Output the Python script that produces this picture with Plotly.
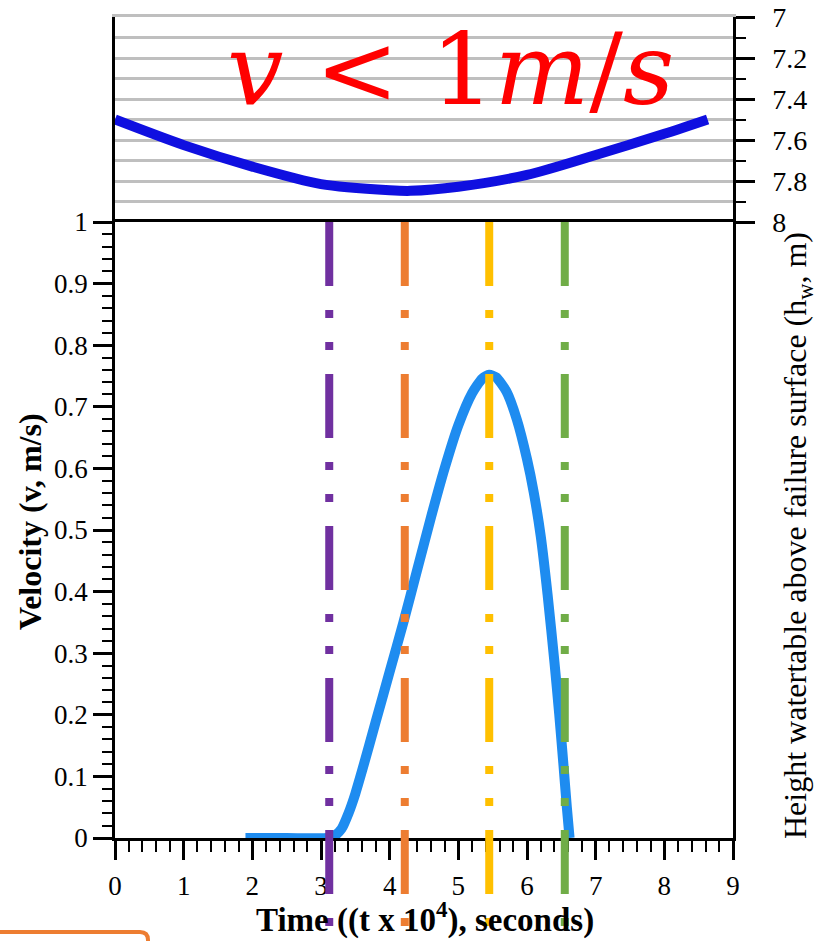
import plotly.graph_objects as go

W, H = 819, 941

# ---------------- data ----------------
# velocity curve (lower panel)
t_velocity = [1.9, 2.5, 3.1, 3.2, 3.3, 3.4, 3.5, 3.6, 3.8, 4.0, 4.2, 4.4, 4.6, 4.8,
              5.0, 5.2, 5.35, 5.45, 5.55, 5.7, 5.85, 6.0, 6.1, 6.2, 6.3, 6.4, 6.47,
              6.53, 6.58, 6.62]
velocity = [0, 0, 0, 0.004, 0.015, 0.04, 0.072, 0.11, 0.19, 0.27, 0.35, 0.435, 0.52,
            0.60, 0.67, 0.722, 0.746, 0.752, 0.748, 0.725, 0.68, 0.615, 0.56, 0.49,
            0.395, 0.285, 0.20, 0.12, 0.05, 0.0]

# watertable height (upper panel)
t_watertable = [0, 1, 2, 3, 4, 4.3, 5, 6, 7, 8, 8.63]
watertable = [7.5, 7.625, 7.73, 7.815, 7.845, 7.848, 7.828, 7.77, 7.673, 7.57, 7.5]

# vertical event markers
event_times = [3.12, 4.22, 5.45, 6.55]
event_colors = ["#7030A0", "#ED7D31", "#FFC000", "#70AD47"]

x_ticks = [0, 1, 2, 3, 4, 5, 6, 7, 8, 9]
v_ticks = [0, 0.1, 0.2, 0.3, 0.4, 0.5, 0.6, 0.7, 0.8, 0.9, 1]
hw_ticks = [7, 7.2, 7.4, 7.6, 7.8, 8]

# ---------------- layout helpers ----------------
def fx(px):
    return px / W


def fy(py):
    return 1 - py / H


LEFT, RIGHT = 115, 733
TOP, MID, BOTTOM = 17, 222, 838
LINE_BOTTOM = 930

serif = "Liberation Serif"
GRID = "#BFBFBF"

fig = go.Figure()

fig.add_trace(go.Scatter(
    x=t_velocity, y=velocity, xaxis="x", yaxis="y", mode="lines",
    line=dict(color="#1E8CF0", width=10, shape="spline", smoothing=0.6),
    hoverinfo="skip"))

fig.add_trace(go.Scatter(
    x=t_watertable, y=watertable, xaxis="x2", yaxis="y2", mode="lines",
    line=dict(color="#0F0FE0", width=10, shape="spline", smoothing=0.8),
    hoverinfo="skip"))

for t, c in zip(event_times, event_colors):
    fig.add_trace(go.Scatter(
        x=[t, t], y=[1, 0], xaxis="x3", yaxis="y3", mode="lines",
        line=dict(color=c, width=8, dash="64px,24px,8px,24px,8px,24px"),
        hoverinfo="skip"))

axis_common = dict(showline=True, linecolor="black", linewidth=2.5, mirror=True,
                   ticks="outside", ticklen=19, tickwidth=2.5, tickcolor="black",
                   zeroline=False, automargin=False)

fig.update_layout(
    template="none",
    width=W, height=H,
    margin=dict(l=0, r=0, t=0, b=0, autoexpand=False),
    paper_bgcolor="white", plot_bgcolor="rgba(0,0,0,0)",
    showlegend=False,
    xaxis=dict(domain=[fx(LEFT), fx(RIGHT)], range=[0, 9], anchor="y",
               tickmode="array", tickvals=x_ticks, showgrid=False,
               tickfont=dict(family=serif, size=27, color="black"),
               ticklabelstandoff=3,
               minor=dict(dtick=0.2, ticks="outside", ticklen=11, tickwidth=2,
                          tickcolor="black", showgrid=False),
               **axis_common),
    yaxis=dict(domain=[fy(BOTTOM), fy(MID)], range=[0, 1], anchor="x",
               tickmode="array", tickvals=v_ticks, showgrid=False,
               tickfont=dict(family=serif, size=27, color="black"),
               minor=dict(dtick=0.02, ticks="outside", ticklen=10, tickwidth=2,
                          tickcolor="black", showgrid=False),
               **axis_common),
    xaxis2=dict(domain=[fx(LEFT), fx(RIGHT)], range=[0, 9], anchor="y2",
                side="top", showline=True, linecolor=GRID, linewidth=2.5,
                showticklabels=False, ticks="", showgrid=False, zeroline=False,
                automargin=False),
    yaxis2=dict(domain=[fy(MID), fy(TOP)], range=[8, 7], anchor="x2", side="right",
                tickmode="array", tickvals=hw_ticks,
                tickfont=dict(family=serif, size=28, color="black"),
                ticklabelstandoff=12,
                showgrid=True, gridcolor=GRID, gridwidth=2.5,
                minor=dict(dtick=0.1, tick0=7, ticks="outside", ticklen=10, tickwidth=2,
                           tickcolor="black", showgrid=True, gridcolor=GRID,
                           gridwidth=2.5),
                **axis_common),
    xaxis3=dict(domain=[fx(LEFT), fx(RIGHT)], range=[0, 9], anchor="y3",
                visible=False, automargin=False),
    yaxis3=dict(domain=[fy(LINE_BOTTOM), fy(MID)], range=[0, 1], anchor="x3",
                visible=False, automargin=False),
)

annotations = [
    dict(text="<i>v</i> &lt; 1<i>m</i>/<i>s</i>", x=fx(450), y=fy(69),
         font=dict(family="DejaVu Serif", size=100, color="#FF0000")),
    dict(text="<b>Velocity (v, m/s)</b>", x=fx(30), y=fy(522), textangle=-90,
         font=dict(family=serif, size=32, color="black")),
    dict(text="<b>Time ((t x 10<sup>4</sup>), seconds)</b>", x=fx(425), y=fy(917),
         font=dict(family=serif, size=33, color="black")),
    dict(text="Height watertable above failure surface (h<sub>w</sub>, m)",
         x=fx(797), y=fy(536), textangle=-90,
         font=dict(family=serif, size=32, color="black")),
]
for a in annotations:
    a.update(xref="paper", yref="paper", xanchor="center", yanchor="middle",
             showarrow=False)
fig.update_layout(annotations=annotations)

# orange frame fragment at the lower left corner
fig.add_shape(type="path", xref="paper", yref="paper",
              path=f"M {fx(-10)},{fy(932)} L {fx(140)},{fy(932)} "
                   f"Q {fx(148)},{fy(932)} {fx(148)},{fy(940)} L {fx(148)},{fy(960)}",
              line=dict(color="#ED7D31", width=4))

fig.write_html("out.html")
